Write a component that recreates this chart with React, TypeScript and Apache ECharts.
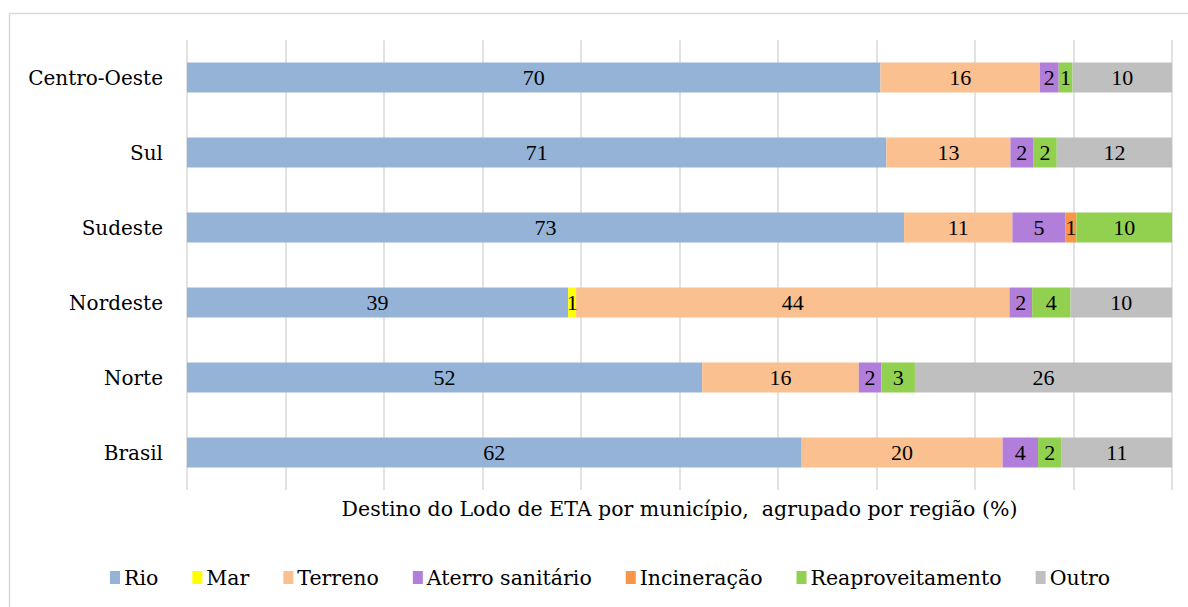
import React, { useEffect, useRef } from "react";
import * as echarts from "echarts";

const regions = ["Centro-Oeste", "Sul", "Sudeste", "Nordeste", "Norte", "Brasil"];
const seriesNames = ["Rio", "Mar", "Terreno", "Aterro sanitário", "Incineração", "Reaproveitamento", "Outro"];
const rio = [70.4, 71.0, 72.8, 38.7, 52.3, 62.4];
const mar = [null, null, null, 0.8, null, null];
const terreno = [16.2, 12.6, 11.0, 44.0, 15.9, 20.4];
const aterro = [1.9, 2.3, 5.4, 2.3, 2.3, 3.6];
const incineracao = [null, null, 1.1, null, null, null];
const reaproveitamento = [1.4, 2.4, 9.7, 3.9, 3.4, 2.4];
const outro = [10.1, 11.7, null, 10.3, 26.1, 11.2];
const axisTitle = "Destino do Lodo de ETA por município,  agrupado por região (%)";

const colors = ["#95B3D7", "#FFFF00", "#FAC090", "#B17ED9", "#F79646", "#92D050", "#BFBFBF"];
const FONT = "Liberation Serif";
const WFONT = "DejaVu Serif";

export default function App() {
  const ref = useRef<HTMLDivElement>(null);
  useEffect(() => {
    if (!ref.current) return;
    const chart = echarts.init(ref.current, undefined, { renderer: "svg" });
    const all = [rio, mar, terreno, aterro, incineracao, reaproveitamento, outro];
    chart.setOption({
      animation: false,
      backgroundColor: "#ffffff",
      color: colors,
      textStyle: { fontFamily: FONT },
      graphic: [
        {
          type: "rect",
          shape: { x: 9.5, y: 13.5, width: 1220, height: 640 },
          style: { fill: "none", stroke: "#d9d9d9", lineWidth: 1.5 },
          silent: true,
        },
      ],
      grid: { left: 187, right: 16, top: 40, bottom: 117 },
      xAxis: {
        type: "value",
        min: 0,
        max: 100,
        interval: 10,
        axisLine: { show: false },
        axisTick: { show: false },
        axisLabel: { show: false },
        splitLine: { show: true, lineStyle: { color: "#d9d9d9", width: 1.5 } },
        name: axisTitle,
        nameLocation: "middle",
        nameGap: 8,
        nameTextStyle: { fontFamily: WFONT, fontSize: 20.5, color: "#000", verticalAlign: "top" },
      },
      yAxis: {
        type: "category",
        data: regions,
        inverse: true,
        axisLine: { show: false },
        axisTick: { show: false },
        splitLine: { show: false },
        axisLabel: { fontFamily: WFONT, fontSize: 20, color: "#000", margin: 24 },
      },
      legend: {
        bottom: 14,
        left: 105,
        itemWidth: 10,
        itemHeight: 13,
        itemGap: 34,
        icon: "rect",
        textStyle: { fontFamily: WFONT, fontSize: 20.5, color: "#000", padding: [0, 0, 0, -1] },
        data: seriesNames,
      },
      series: seriesNames.map((name, i) => ({
        name,
        type: "bar",
        stack: "total",
        barWidth: 30,
        data: all[i],
        itemStyle: { color: colors[i] },
        label: {
          show: true,
          position: "inside",
          fontFamily: FONT,
          fontSize: 22,
          color: "#000",
          formatter: (p: any) => (p.value == null ? "" : String(Math.round(p.value))),
        },
      })),
    });
    return () => chart.dispose();
  }, []);
  return (
    <div
      ref={ref}
      style={{ position: "fixed", left: 0, top: 0, width: 1188, height: 607, background: "#fff" }}
    />
  );
}
